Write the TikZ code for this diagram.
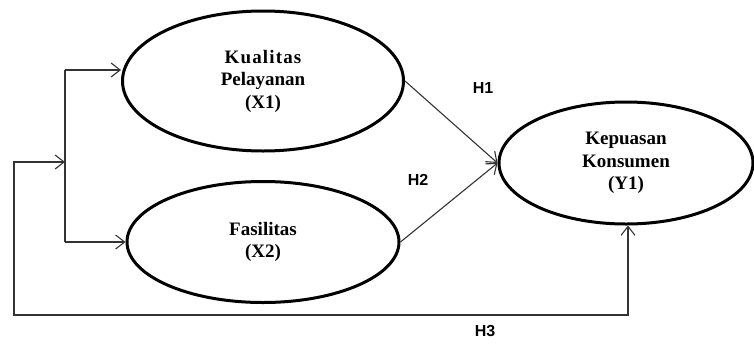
\documentclass[tikz,border=0pt]{standalone}
\usepackage{fontspec}
\setmainfont{Liberation Serif}
\setsansfont{Liberation Sans}
\usetikzlibrary{shapes.geometric,arrows.meta}
\tikzset{
  construct/.style={draw=black, line width=3pt, ellipse, inner sep=0pt,
    align=center, font=\bfseries\fontsize{19}{22.5}\selectfont},
  link/.style={draw=black!80, line width=1.1pt,
    -{Straight Barb[length=9pt,width=14pt,line width=1.1pt]}},
  hyp/.style={font=\sffamily\bfseries\fontsize{16}{19}\selectfont},
}
\begin{document}
\begin{tikzpicture}[x=1pt,y=-1pt]
\useasboundingbox (0,0) rectangle (754,343);

% constructs
\node[construct, minimum width=281pt, minimum height=140pt] (X1) at (263,81)
  {{\addfontfeature{LetterSpace=6}Kualitas}\\Pelayanan\\(X1)};
\node[construct, minimum width=272pt, minimum height=121pt] (X2) at (263,242)
  {Fasilitas\\(X2)};
\node[construct, minimum width=254pt, minimum height=122pt] (Y1) at (626,163)
  {Kepuasan\\Konsumen\\(Y1)};

% branching points on the left
\coordinate (jTop) at (65,70);
\coordinate (jMid) at (65,162);
\coordinate (jBot) at (65,242);
\coordinate (lTop) at (14,162);
\coordinate (lBot) at (14,315);
\coordinate (rBot) at (628,315);

\draw[draw=black!80, line width=1.1pt] (jTop) -- (jBot);
\draw[link] (jTop) -- (jTop -| X1.west);
\draw[link] (jBot) -- (X2.west);

% H1, H2
\draw[link] (X1.east) -- (Y1.west);
\draw[link] (X2.east) -- (Y1.west);

% H3 loop
\draw[link, {Straight Barb[length=9pt,width=14pt,line width=1.1pt]}-{Straight Barb[length=9pt,width=14pt,line width=1.1pt]}]
  (jMid) -- (lTop) -- (lBot) -- (rBot) -- (rBot |- Y1.south);

% hypothesis labels
\node[hyp] (h1) at (483,88) {H1};
\node[hyp] (h2) at (418,180) {H2};
\node[hyp] (h3) at (485,331) {H3};
\end{tikzpicture}
\end{document}
